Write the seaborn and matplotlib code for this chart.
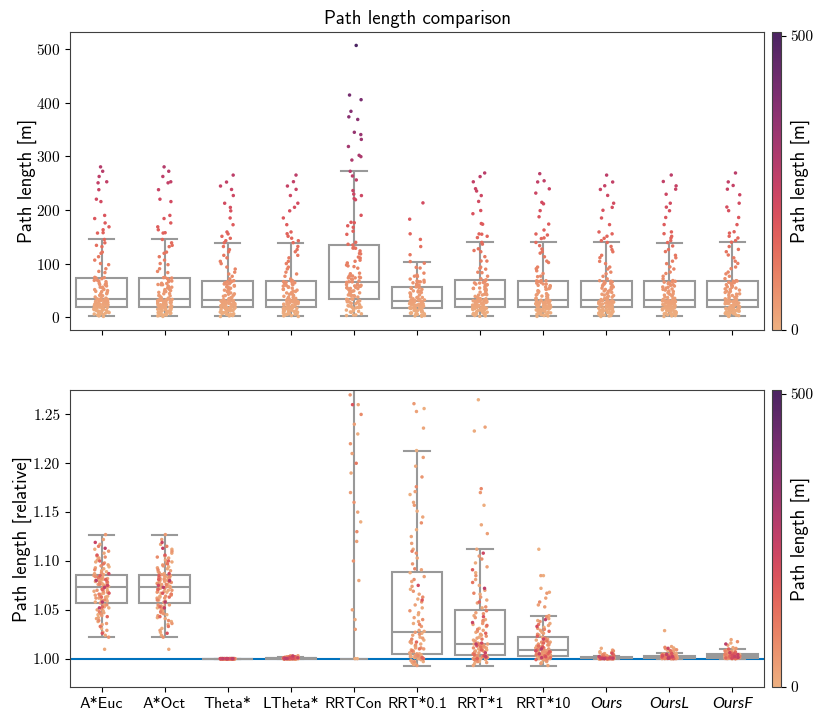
"""
Path length comparison: absolute and relative (to Theta*) path lengths per planner.
"""

# %% Imports
import numpy as np
import pandas as pd
import matplotlib

matplotlib.use("Agg")
from matplotlib import pyplot as plt
from matplotlib.colors import Normalize
from matplotlib.cm import ScalarMappable
import seaborn as sns

# %% Data
METHODS = ["A*Euc", "A*Oct", "Theta*", "LTheta*", "RRTCon", "RRT*0.1", "RRT*1", "RRT*10", "Ours", "OursL", "OursF"]
ITALIC_METHODS = ["Ours", "OursL", "OursF"]

nan = np.nan

# Theta* path lengths [m] of the test problems (sorted), the reference for the relative plot
theta_len = [
    1.2, 2.3, 2.9, 3.8, 4.4, 5.1, 5.5, 6.3, 6.9, 7.6,
    8.0, 8.7, 9.3, 9.8, 10.6, 11.0, 11.7, 12.1, 12.9, 13.4,
    13.8, 14.6, 14.9, 15.5, 15.9, 16.4, 16.6, 17.0, 17.3, 17.8,
    18.1, 18.9, 19.2, 19.8, 20.1, 20.9, 21.3, 21.6, 22.4, 22.7,
    23.3, 23.6, 24.2, 24.9, 25.1, 25.8, 26.4, 26.7, 27.2, 27.9,
    28.2, 28.6, 29.1, 29.4, 29.7, 30.0, 30.2, 30.5, 30.7, 30.9,
    31.3, 32.8, 34.1, 35.0, 36.6, 37.3, 38.9, 40.2, 41.0, 42.7,
    43.5, 45.1, 46.0, 47.8, 48.6, 50.3, 51.7, 52.2, 54.0, 55.6,
    56.3, 57.9, 59.0, 60.4, 61.8, 62.5, 64.1, 65.0, 66.2, 66.8,
    68.0, 71.4, 76.2, 80.5, 83.9, 89.7, 93.4, 99.8, 104.1, 110.6,
    115.3, 121.9, 126.0, 131.7, 138.9, 142.6, 147.1, 150.8, 155.3, 158.9,
    172.4, 185.0, 198.3, 204.7, 212.5, 226.9, 238.2, 244.6, 252.0, 265.0,
]

# path length relative to Theta*, same problem order as theta_len (nan = no path found)
rel_astar_euc = [
    1.068, 1.031, 1.079, 1.094, 1.045, 1.083, 1.061, 1.052, 1.076, 1.112,
    1.089, 1.064, 1.038, 1.081, 1.070, 1.105, 1.027, 1.059, 1.074, 1.099,
    1.049, 1.077, 1.0096, 1.066, 1.085, 1.092, 1.042, 1.072, 1.080, 1.117,
    1.058, 1.101, 1.035, 1.084, 1.069, 1.054, 1.087, 1.063, 1.078, 1.108,
    1.075, 1.024, 1.067, 1.082, 1.096, 1.047, 1.060, 1.053, 1.079, 1.122,
    1.041, 1.071, 1.093, 1.062, 1.083, 1.050, 1.090, 1.065, 1.076, 1.103,
    1.055, 1.080, 1.029, 1.073, 1.086, 1.068, 1.044, 1.085, 1.074, 1.127,
    1.062, 1.098, 1.036, 1.081, 1.057, 1.110, 1.051, 1.070, 1.077, 1.088,
    1.082, 1.046, 1.064, 1.095, 1.022, 1.078, 1.069, 1.055, 1.084, 1.104,
    1.072, 1.039, 1.091, 1.060, 1.076, 1.115, 1.048, 1.066, 1.083, 1.097,
    1.033, 1.079, 1.063, 1.053, 1.043, 1.100, 1.071, 1.081, 1.085, 1.106,
    1.067, 1.026, 1.087, 1.075, 1.119, 1.113, 1.052, 1.073, 1.080, 1.058,
]
# both admissible heuristics give the optimal grid path, so the lengths are identical
rel_astar_oct = list(rel_astar_euc)
rel_theta = [1.0] * 120
rel_ltheta = [
    1.0000, 1.0004, 1.0011, 1.0000, 1.0002, 1.0019, 1.0006, 1.0000, 1.0001, 1.0008,
    1.0003, 1.0000, 1.0014, 1.0005, 1.0000, 1.0027, 1.0002, 1.0009, 1.0000, 1.0004,
    1.0001, 1.0012, 1.0000, 1.0006, 1.0003, 1.0000, 1.0017, 1.0002, 1.0007, 1.0000,
    1.0005, 1.0000, 1.0010, 1.0001, 1.0004, 1.0022, 1.0000, 1.0003, 1.0008, 1.0000,
    1.0002, 1.0013, 1.0000, 1.0006, 1.0001, 1.0000, 1.0030, 1.0004, 1.0000, 1.0009,
    1.0003, 1.0000, 1.0016, 1.0005, 1.0001, 1.0000, 1.0007, 1.0011, 1.0002, 1.0000,
    1.0004, 1.0024, 1.0000, 1.0008, 1.0003, 1.0000, 1.0001, 1.0015, 1.0006, 1.0000,
    1.0002, 1.0010, 1.0000, 1.0005, 1.0020, 1.0001, 1.0000, 1.0007, 1.0003, 1.0012,
    1.0000, 1.0004, 1.0009, 1.0000, 1.0002, 1.0018, 1.0006, 1.0000, 1.0001, 1.0011,
    1.0003, 1.0000, 1.0008, 1.0005, 1.0000, 1.0026, 1.0002, 1.0013, 1.0000, 1.0004,
    1.0001, 1.0007, 1.0000, 1.0016, 1.0003, 1.0000, 1.0010, 1.0005, 1.0021, 1.0000,
    1.0006, 1.0002, 1.0000, 1.0012, 1.0004, 1.0000, 1.0009, 1.0001, 1.0028, 1.0003,
]
rel_rrt_con = [
    2.5, 1.8, 3.1, 1.0, 2.2, 2.7, 1.14, 3.3, 1.9, 2.4,
    2.9, 1.23, 2.1, 3.4, 1.7, 2.6, 1.0, 2.3, 3.0, 1.6,
    2.2, 2.8, 1.19, 1.9, 3.2, 2.5, 1.04, 2.0, 1.08, 2.7,
    1.8, 2.4, 3.0, 1.26, 2.1, 1.6, 2.6, 2.2, 1.15, 2.9,
    2.3, 1.7, 2.0, 1.21, 2.8, 1.9, 2.5, 1.05, 2.2, 1.6,
    2.6, 1.9, 1.12, 2.3, 2.0, 2.7, 1.24, 1.8, 2.4, 2.1,
    1.7, 2.5, 1.17, 2.2, 2.0, 1.9, 2.6, 1.03, 2.3, 1.8,
    2.1, 1.27, 2.4, 1.22, 2.0, 1.9, 2.7, 1.16, 2.2, 1.1,
    2.3, 1.8, 2.0, 1.25, 2.5, 1.7, 2.1, 1.9, 1.13, 2.4,
    2.0, 1.8, 2.2, 1.6, 2.1, 1.9, 1.2, 2.3, 1.7, 2.0,
    1.9, 2.1, 1.8, 2.0, 1.7, 2.1, 1.85, 1.26, 2.05, 1.9,
    1.70, 2.02, 1.86, 1.62, 1.95, 1.52, 1.43, 1.57, 1.61, 1.913,
]
rel_rrt_01 = [
    1.213, 0.998, 1.045, 1.002, 1.168, 1.012, 1.256, 0.995, 1.071, 1.019,
    1.001, 1.132, 1.026, 1.004, 1.088, 1.151, 0.997, 1.036, 1.009, 1.197,
    1.061, 1.003, 1.015, 1.112, 0.999, 1.236, 1.052, 1.022, 1.005, 1.145,
    1.008, 1.079, 0.994, 1.160, 1.028, 1.002, 1.047, 1.013, 1.103, 1.000,
    1.066, 1.017, 1.253, 1.004, 1.038, 1.125, 1.006, 1.091, 0.996, 1.024,
    1.171, 1.001, 1.055, 1.011, 1.084, 1.003, 1.206, 1.029, 1.042, 0.998,
    1.016, 1.118, 1.005, 1.074, 1.021, 1.261, 1.000, 1.033, 1.157, 1.010,
    1.058, 1.002, 1.186, 1.027, 1.007, 1.069, 1.097, 0.993, 1.018, 1.049,
    1.004, 1.139, 1.014, 1.081, 1.001, 1.025, 1.108, 1.040, 0.997, 1.176,
    1.011, 1.063, 1.003, 1.020, 1.092, 1.035, 1.110, 1.008, nan, nan,
    1.010, nan, nan, 1.000, nan, 1.017, nan, nan, 1.001, nan,
    1.060, nan, 1.075, nan, nan, nan, nan, nan, nan, nan,
]
rel_rrt_1 = [
    1.265, 1.002, 1.031, 0.997, 1.088, 1.010, 1.004, 1.157, 1.022, 1.000,
    1.013, 1.066, 0.995, 1.040, 1.007, 1.233, 1.001, 1.027, 1.098, 1.012,
    1.003, 1.052, 1.015, 1.137, 0.999, 1.035, 1.008, 1.075, 1.002, 1.019,
    1.009, 1.044, 1.001, 1.112, 1.014, 0.993, 1.024, 1.060, 1.005, 1.003,
    1.237, 1.011, 1.038, 1.000, 1.081, 1.016, 1.004, 1.029, 1.006, 1.094,
    1.002, 1.047, 1.013, 1.070, 0.998, 1.021, 1.010, 1.128, 1.001, 1.033,
    1.057, 1.006, 1.003, 1.025, 1.015, 1.105, 0.996, 1.042, 1.009, 1.002,
    1.018, 1.170, 1.012, 1.000, 1.036, 1.063, 1.004, 1.028, 1.007, 1.085,
    1.001, 1.046, 1.014, 1.053, 0.997, 1.023, 1.011, 1.102, 1.003, 1.039,
    1.008, 1.174, 1.002, 1.030, 1.067, 1.015, 0.999, 1.049, 1.005, 1.020,
    1.078, 1.001, 1.012, 1.034, 1.004, 1.058, 1.009, 1.026, 1.000, 1.091,
    1.013, 1.043, 1.003, 1.108, 1.016, 1.037, 1.006, 1.072, 1.002, 1.015,
]
rel_rrt_10 = [
    1.112, 1.001, 1.014, 0.996, 1.032, 1.005, 1.002, 1.085, 1.011, 1.000,
    1.006, 1.027, 0.998, 1.017, 1.004, 1.072, 1.001, 1.012, 1.039, 1.007,
    1.002, 1.024, 1.008, 1.068, 0.999, 1.019, 1.005, 1.036, 1.003, 1.010,
    1.004, 1.022, 1.000, 1.044, 1.007, 0.993, 1.015, 1.029, 1.006, 1.002,
    1.085, 1.005, 1.013, 1.001, 1.034, 1.008, 1.003, 1.018, 1.004, 1.062,
    1.002, 1.016, 1.007, 1.041, 0.997, 1.011, 1.005, 1.055, 1.000, 1.020,
    1.026, 1.006, 1.002, 1.013, 1.008, 1.053, 0.995, 1.019, 1.004, 1.001,
    1.010, 1.067, 1.006, 0.999, 1.015, 1.031, 1.003, 1.016, 1.007, 1.038,
    1.001, 1.012, 1.005, 1.025, 0.998, 1.014, 1.008, 1.043, 1.002, 1.017,
    1.006, 1.058, 1.003, 1.011, 1.030, 1.007, 1.000, 1.021, 1.004, 1.018,
    1.035, 1.001, 1.009, 1.013, 1.003, 1.028, 1.005, 1.016, 0.999, 1.023,
    1.007, 1.012, 1.002, 1.033, 1.008, 1.020, 1.005, 1.040, 1.001, 1.010,
]
rel_ours = [
    1.0004, 1.0000, 1.0011, 1.0002, 1.0058, 1.0007, 1.0000, 1.0013, 1.0003, 1.0009,
    1.0001, 1.0035, 1.0006, 1.0000, 1.0012, 1.0004, 1.0106, 1.0008, 1.0002, 1.0010,
    1.0005, 1.0000, 1.0014, 1.0003, 1.0047, 1.0007, 1.0001, 1.0011, 1.0000, 1.0028,
    1.0006, 1.0002, 1.0009, 1.0000, 1.0013, 1.0071, 1.0004, 1.0008, 1.0001, 1.0012,
    1.0003, 1.0000, 1.0040, 1.0010, 1.0005, 1.0002, 1.0014, 1.0000, 1.0007, 1.0031,
    1.0001, 1.0011, 1.0004, 1.0000, 1.0088, 1.0008, 1.0003, 1.0012, 1.0006, 1.0000,
    1.0009, 1.0002, 1.0052, 1.0005, 1.0000, 1.0013, 1.0001, 1.0010, 1.0024, 1.0004,
    1.0007, 1.0000, 1.0011, 1.0003, 1.0063, 1.0006, 1.0001, 1.0014, 1.0008, 1.0000,
    1.0002, 1.0037, 1.0005, 1.0010, 1.0000, 1.0012, 1.0004, 1.0079, 1.0007, 1.0001,
    1.0009, 1.0003, 1.0000, 1.0044, 1.0006, 1.0013, 1.0002, 1.0011, 1.0000, 1.0026,
    1.0005, 1.0008, 1.0001, 1.0014, 1.0033, 1.0004, 1.0000, 1.0010, 1.0007, 1.0002,
    1.0012, 1.0000, 1.0055, 1.0006, 1.0003, 1.0009, 1.0001, 1.0021, 1.0005, 1.0000,
]
rel_ours_l = [
    1.0012, 1.0031, 1.0004, 1.0085, 1.0019, 1.0001, 1.0026, 1.0008, 1.0047, 1.0015,
    1.0002, 1.0022, 1.0110, 1.0009, 1.0034, 1.0005, 1.0017, 1.0000, 1.0029, 1.0055,
    1.0013, 1.0006, 1.0287, 1.0024, 1.0003, 1.0018, 1.0040, 1.0010, 1.0075, 1.0001,
    1.0028, 1.0014, 1.0007, 1.0036, 1.0021, 1.0004, 1.0096, 1.0011, 1.0032, 1.0002,
    1.0016, 1.0050, 1.0008, 1.0025, 1.0000, 1.0019, 1.0124, 1.0012, 1.0005, 1.0030,
    1.0009, 1.0038, 1.0003, 1.0022, 1.0015, 1.0080, 1.0006, 1.0027, 1.0011, 1.0001,
    1.0044, 1.0017, 1.0008, 1.0033, 1.0002, 1.0020, 1.0102, 1.0013, 1.0026, 1.0004,
    1.0010, 1.0037, 1.0016, 1.0000, 1.0052, 1.0023, 1.0007, 1.0070, 1.0014, 1.0029,
    1.0003, 1.0019, 1.0042, 1.0009, 1.0091, 1.0024, 1.0005, 1.0031, 1.0012, 1.0001,
    1.0035, 1.0018, 1.0006, 1.0116, 1.0021, 1.0011, 1.0046, 1.0002, 1.0028, 1.0015,
    1.0008, 1.0032, 1.0004, 1.0083, 1.0020, 1.0013, 1.0039, 1.0000, 1.0025, 1.0007,
    1.0017, 1.0053, 1.0010, 1.0027, 1.0003, 1.0106, 1.0022, 1.0014, 1.0043, 1.0006,
]
rel_ours_f = [
    1.0021, 1.0064, 1.0008, 1.0043, 1.0002, 1.0097, 1.0015, 1.0036, 1.0055, 1.0011,
    1.0030, 1.0004, 1.0072, 1.0018, 1.0048, 1.0001, 1.0025, 1.0160, 1.0009, 1.0039,
    1.0013, 1.0058, 1.0006, 1.0027, 1.0084, 1.0003, 1.0046, 1.0019, 1.0113, 1.0010,
    1.0033, 1.0005, 1.0062, 1.0022, 1.0000, 1.0041, 1.0016, 1.0195, 1.0028, 1.0007,
    1.0052, 1.0012, 1.0035, 1.0002, 1.0075, 1.0020, 1.0009, 1.0044, 1.0014, 1.0031,
    1.0004, 1.0066, 1.0024, 1.0011, 1.0050, 1.0001, 1.0138, 1.0017, 1.0038, 1.0006,
    1.0029, 1.0056, 1.0013, 1.0003, 1.0090, 1.0023, 1.0008, 1.0042, 1.0015, 1.0034,
    1.0002, 1.0060, 1.0019, 1.0047, 1.0010, 1.0026, 1.0005, 1.0105, 1.0032, 1.0012,
    1.0054, 1.0001, 1.0037, 1.0021, 1.0070, 1.0007, 1.0040, 1.0016, 1.0174, 1.0027,
    1.0009, 1.0049, 1.0003, 1.0033, 1.0018, 1.0081, 1.0012, 1.0045, 1.0024, 1.0006,
    1.0057, 1.0014, 1.0030, 1.0000, 1.0068, 1.0020, 1.0039, 1.0008, 1.0099, 1.0026,
    1.0011, 1.0051, 1.0017, 1.0035, 1.0004, 1.0061, 1.0022, 1.0043, 1.0013, 1.0150,
]

REL_BY_METHOD = {
    "A*Euc": rel_astar_euc,
    "A*Oct": rel_astar_oct,
    "Theta*": rel_theta,
    "LTheta*": rel_ltheta,
    "RRTCon": rel_rrt_con,
    "RRT*0.1": rel_rrt_01,
    "RRT*1": rel_rrt_1,
    "RRT*10": rel_rrt_10,
    "Ours": rel_ours,
    "OursL": rel_ours_l,
    "OursF": rel_ours_f,
}

# %% Build dataframe
dfs = []
for method in METHODS:
    rel = np.asarray(REL_BY_METHOD[method], dtype=float)
    length = np.asarray(theta_len) * rel  # absolute length [m]
    dfs.append(pd.DataFrame({"method": method, "length": length, "relative": rel}))
df = pd.concat(dfs).dropna().reset_index(drop=True)
df["method"] = pd.Categorical(df["method"], categories=METHODS)

# %% Style
plt.rcParams["axes.formatter.use_mathtext"] = True
SANS = "cmss10"
SERIF = "cmr10"
GREY = "0.6"
cmap = sns.color_palette("flare", as_cmap=True)
norm = Normalize(0, df.length.max())

W, H = 813, 711
fig = plt.figure(figsize=(W / 100, H / 100), dpi=100)
ax_top = fig.add_axes([70 / W, 1 - 330 / H, 694 / W, 298 / H])
ax_bot = fig.add_axes([70 / W, 1 - 687 / H, 694 / W, 297 / H], sharex=ax_top)
cax_top = fig.add_axes([772 / W, 1 - 330 / H, 9 / W, 298 / H])
cax_bot = fig.add_axes([772 / W, 1 - 687 / H, 9 / W, 297 / H])


def draw_panel(ax, y):
    sns.boxplot(
        df,
        x="method",
        y=y,
        order=METHODS,
        color="white",
        linecolor=GREY,
        linewidth=1.5,
        showfliers=False,
        width=0.8,
        ax=ax,
    )
    sns.stripplot(
        df,
        x="method",
        y=y,
        order=METHODS,
        hue="length",
        palette=cmap,
        hue_norm=norm,
        jitter=0.12,
        size=2.5,
        linewidth=0,
        legend=False,
        ax=ax,
    )
    ax.set_xlabel("")
    for lbl in ax.get_yticklabels():
        lbl.set_fontfamily(SERIF)
        lbl.set_fontsize(11)
    for side in ["left", "right", "top", "bottom"]:
        ax.spines[side].set_color("0.25")


draw_panel(ax_top, "length")
ax_bot.axhline(1.0, color="#0072bd", lw=1.5, zorder=0.9)
draw_panel(ax_bot, "relative")

ax_top.set_title("Path length comparison", fontfamily=SANS, fontsize=13.5, pad=6)
ax_top.set_ylabel("Path length [m]", fontfamily=SANS, fontsize=13.5, labelpad=-1)
ax_top.tick_params(labelbottom=False)
ax_top.set_ylim(-24, 532)

ax_bot.set_ylabel("Path length [relative]", fontfamily=SANS, fontsize=13.5, labelpad=1)
ax_bot.set_ylim(0.971, 1.275)
ax_bot.set_yticks([1.0, 1.05, 1.1, 1.15, 1.2, 1.25])
ax_bot.set_yticklabels(["1.00", "1.05", "1.10", "1.15", "1.20", "1.25"], fontfamily=SERIF, fontsize=11)
ax_bot.set_xticks(range(len(METHODS)))
ax_bot.set_xticklabels(METHODS)
for lbl in ax_bot.get_xticklabels():
    if lbl.get_text() in ITALIC_METHODS:
        lbl.set_fontfamily("Lato")
        lbl.set_fontstyle("italic")
    else:
        lbl.set_fontfamily(SANS)
    lbl.set_fontsize(11.5)
ax_bot.set_xlim(-0.5, len(METHODS) - 0.5)

# %% Colorbars
for cax in [cax_top, cax_bot]:
    cb = fig.colorbar(ScalarMappable(norm=norm, cmap=cmap), cax=cax)
    cb.set_ticks([0, 500])
    cb.ax.set_yticklabels(["0", "500"], fontfamily=SERIF, fontsize=11)
    cb.set_label("Path length [m]", fontfamily=SANS, fontsize=13.5, labelpad=-17)
    cb.outline.set_edgecolor("0.25")

fig.savefig("out.png", dpi=100)
